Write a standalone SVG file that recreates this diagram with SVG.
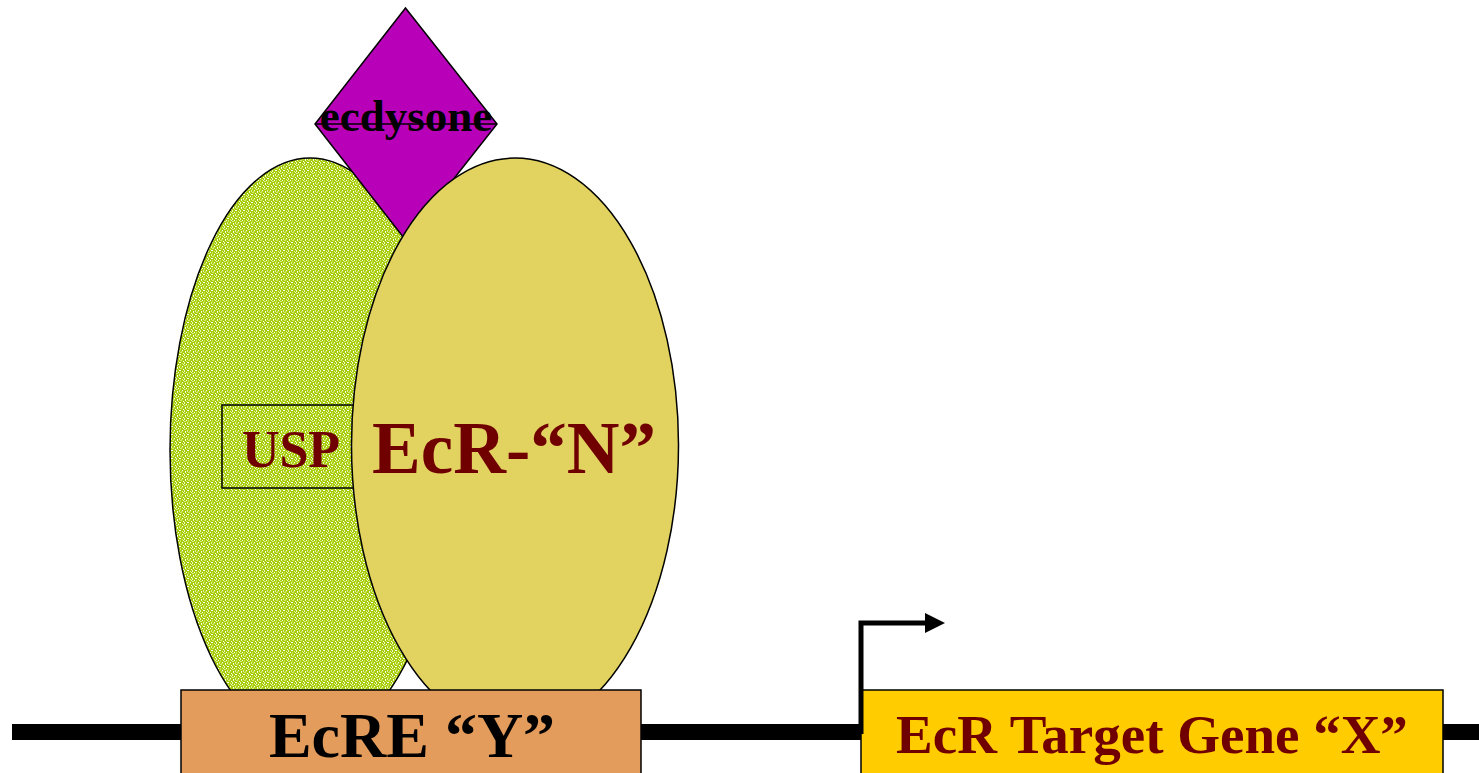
<svg xmlns="http://www.w3.org/2000/svg" width="1479" height="773" viewBox="0 0 1479 773">
  <defs>
    <pattern id="speckle" width="8" height="8" patternUnits="userSpaceOnUse">
      <rect width="8" height="8" fill="#a6cc0a"/>
      <rect x="1" y="0" width="1" height="1" fill="#f4fad8"/>
      <rect x="4" y="0" width="2" height="1" fill="#d4ea70"/>
      <rect x="7" y="1" width="1" height="1" fill="#ffffff"/>
      <rect x="2" y="1" width="1" height="1" fill="#c8e250"/>
      <rect x="0" y="2" width="1" height="2" fill="#eef6c0"/>
      <rect x="3" y="2" width="2" height="1" fill="#ffffff"/>
      <rect x="6" y="3" width="1" height="1" fill="#dcee88"/>
      <rect x="2" y="4" width="1" height="1" fill="#ffffff"/>
      <rect x="4" y="4" width="1" height="2" fill="#cfe65c"/>
      <rect x="7" y="4" width="1" height="1" fill="#f0f8c8"/>
      <rect x="0" y="5" width="2" height="1" fill="#d8ec80"/>
      <rect x="6" y="6" width="1" height="1" fill="#ffffff"/>
      <rect x="1" y="7" width="1" height="1" fill="#ffffff"/>
      <rect x="3" y="6" width="1" height="2" fill="#e6f2a0"/>
      <rect x="5" y="7" width="2" height="1" fill="#c4e048"/>
    </pattern>
    <marker id="arrowhead" markerWidth="20" markerHeight="20" refX="0" refY="10" orient="auto" markerUnits="userSpaceOnUse">
      <path d="M0,0 L20,10 L0,20 Z" fill="#000"/>
    </marker>
  </defs>
  <style>
    .outline { stroke: #000; stroke-width: 1.5; }
    .bold { font-family: "Liberation Serif", "Times New Roman", serif; font-weight: bold; text-anchor: middle; }
    .red { fill: #700000; }
  </style>

  <g id="dna">
    <rect x="12" y="724" width="1467" height="16" fill="#000"/>
  </g>

  <g id="usp">
    <ellipse cx="310" cy="450" rx="140" ry="292" fill="url(#speckle)" class="outline"/>
    <rect x="222" y="405" width="150" height="83" fill="none" class="outline"/>
    <text x="291" y="467" font-size="52" class="bold red">USP</text>
  </g>

  <g id="ecdysone">
    <polygon points="405.5,8 497,124 405.5,240 315,124" fill="#b800b8" class="outline"/>
    <text x="406" y="131" font-size="45" class="bold" fill="#000">ecdysone</text>
    <line x1="315" y1="124" x2="497" y2="124" class="outline"/>
  </g>

  <g id="ecr">
    <ellipse cx="515" cy="445" rx="163.5" ry="287" fill="#e2d260" class="outline"/>
    <text x="514" y="473" font-size="73" class="bold red">EcR-“N”</text>
  </g>

  <g id="ecre">
    <rect x="181" y="690" width="460" height="90" fill="#e39c5c" class="outline"/>
    <text x="412" y="757" font-size="64" class="bold" fill="#000">EcRE “Y”</text>
  </g>

  <g id="target">
    <rect x="861" y="690" width="582" height="90" fill="#ffcc00" class="outline"/>
    <text x="1152" y="753" font-size="55" class="bold red">EcR Target Gene “X”</text>
  </g>

  <g id="connectors">
    <path d="M861,734 L861,623 L925,623" fill="none" stroke="#000" stroke-width="5" marker-end="url(#arrowhead)"/>
  </g>
</svg>
